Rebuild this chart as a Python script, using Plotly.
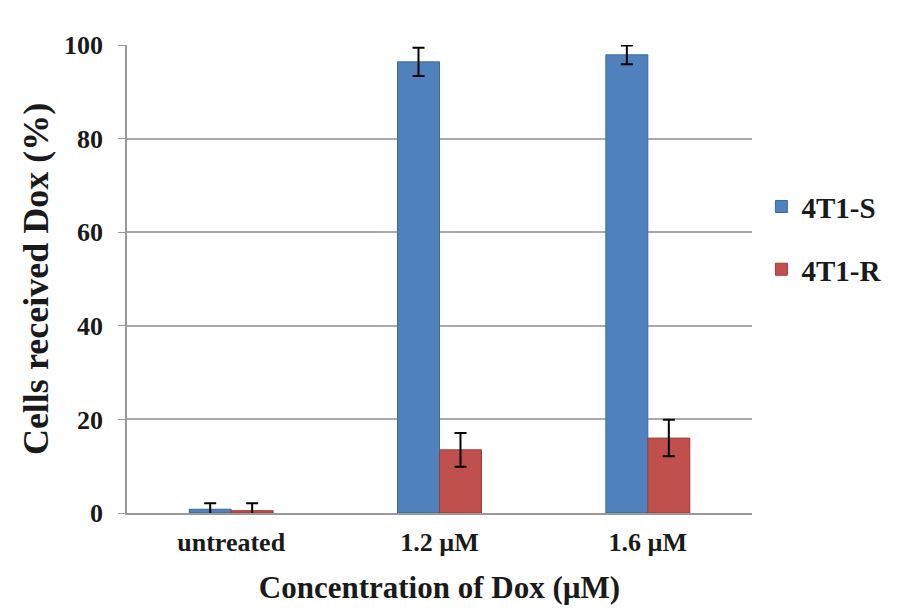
import plotly.graph_objects as go

categories = ["untreated", "1.2 µM", "1.6 µM"]
s_vals = [0.8, 96.4, 97.9]
s_err = [1.3, 3.0, 2.0]
r_vals = [0.5, 13.5, 16.0]
r_err = [1.6, 3.6, 3.9]

font_family = "Liberation Serif"

fig = go.Figure()
fig.add_trace(go.Bar(
    x=categories, y=s_vals, name="<b>4T1-S</b>", legendgroup="s",
    marker=dict(color="#4F81BD", line=dict(color="#3A6A9E", width=1)),
    error_y=dict(type="data", array=s_err, color="black", thickness=2, width=6),
))
fig.add_trace(go.Bar(
    x=categories, y=r_vals, name="<b>4T1-R</b>", legendgroup="r",
    marker=dict(color="#C0504D", line=dict(color="#A03A38", width=1)),
    error_y=dict(type="data", array=r_err, color="black", thickness=2, width=6),
))

fig.update_layout(
    width=900, height=613,
    margin=dict(l=119, r=156, t=37, b=108),
    paper_bgcolor="white", plot_bgcolor="white",
    barmode="group", bargap=0.597, bargroupgap=0,
    font=dict(family=font_family, color="#1a1a1a"),
    legend=dict(x=1.015, y=0.709, xanchor="left", yanchor="top",
                font=dict(size=29, family=font_family, color="#1a1a1a"),
                traceorder="grouped", tracegroupgap=22, itemwidth=30),
    xaxis=dict(
        title=dict(text="<b>Concentration of Dox (µM)</b>", font=dict(size=31), standoff=20),
        tickfont=dict(size=26),
        tickprefix="<b>", ticksuffix="</b>",
        showline=True, linecolor="#999999", linewidth=1.5,
        ticks="outside", ticklen=5, tickcolor="rgba(0,0,0,0)", showgrid=False,
        automargin=False,
    ),
    yaxis=dict(
        title=dict(text="<b>Cells received Dox (%)</b>", font=dict(size=36), standoff=4),
        range=[0, 100], dtick=20,
        tickfont=dict(size=26),
        tickprefix="<b>", ticksuffix="</b>",
        ticklabelstandoff=10,
        showline=True, linecolor="#999999", linewidth=1.5,
        showgrid=True, gridcolor="#aaaaaa", gridwidth=1.5,
        ticks="outside", ticklen=7, tickcolor="#999999",
        zeroline=False, automargin=False,
    ),
)

fig.write_html("out.html")
